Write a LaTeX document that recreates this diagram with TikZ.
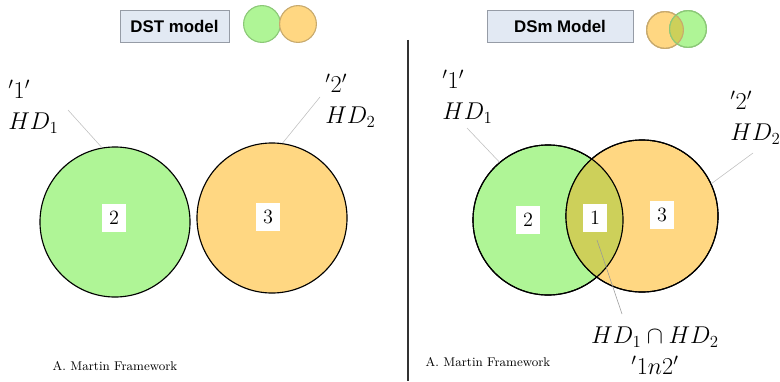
\documentclass[tikz,border=0pt]{standalone}
\usepackage{fontspec}
\setsansfont{Liberation Sans}

\definecolor{setgreen}{RGB}{175,245,150}
\definecolor{setorange}{RGB}{255,215,130}
\definecolor{setolive}{RGB}{205,208,90}
\definecolor{boxfill}{RGB}{226,233,243}
\definecolor{boxline}{RGB}{150,156,166}
\definecolor{greenrim}{RGB}{140,200,120}
\definecolor{orangerim}{RGB}{200,170,110}

\begin{document}
\begin{tikzpicture}[x=0.025cm,y=-0.025cm,
  setcircle/.style={circle,draw=black,thick,minimum size=3.75cm,inner sep=0pt},
  numbox/.style={fill=white,minimum width=0.6cm,minimum height=0.68cm,inner sep=0pt,font=\Large},
  modelbox/.style={draw=boxline,fill=boxfill,semithick,font=\sffamily\bfseries\large,minimum height=0.8cm,inner sep=0pt},
  hdlabel/.style={align=left,font=\LARGE,inner sep=0pt},
  leader/.style={draw=black!25,thin},
  minicircle/.style={circle,minimum size=0.92cm,inner sep=0pt,line width=0.8pt}]
  \useasboundingbox (0,0) rectangle (780,381);
  %
  \node (dst) [modelbox,minimum width=2.725cm] at (174.5,26) {DST model};
  \node (dstG) [minicircle,draw=greenrim,fill=setgreen] at (262,24) {};
  \node (dstO) [minicircle,draw=orangerim,fill=setorange] at (298,24) {};
  %
  \node (dsm) [modelbox,minimum width=3.65cm] at (560,26) {DSm Model};
  \node (dsmO) [minicircle,draw=orangerim,fill=setorange] at (665,30) {};
  \node (dsmG) [minicircle,draw=greenrim,fill=setgreen] at (688,29) {};
  \begin{scope}
    \clip (665,30) circle (0.46cm);
    \fill[setolive] (688,29) circle (0.46cm);
  \end{scope}
  \draw[orangerim,line width=0.8pt] (665,30) circle (0.46cm);
  \draw[greenrim,line width=0.8pt] (688,29) circle (0.46cm);
  %
  \draw[line width=1.4pt,black!80] (408,40) -- (408,381);
  %
  % DST side
  \node (gA) [setcircle,fill=setgreen] at (115,222) {};
  \node (oA) [setcircle,fill=setorange] at (272,218) {};
  \node (nA2) [numbox] at (114,218) {2};
  \node (nA3) [numbox] at (268,217) {3};
  \node (hdA) [hdlabel,anchor=west] at (8,107) {$'1'$\\$HD_1$};
  \node (hdB) [hdlabel,anchor=west] at (325,101) {$'2'$\\$HD_2$};
  \coordinate (fA) at (68,110);
  \coordinate (fB) at (320,97);
  \draw[leader] (fA) -- (gA.100);
  \draw[leader] (fB) -- (oA.82);
  \node (mA) at (115,366) {\small A. Martin Framework};
  %
  % DSm side
  \node (gB) [setcircle,fill=setgreen] at (548,220) {};
  \node (oB) [setcircle,fill=setorange,minimum size=3.8cm] at (642,216) {};
  \begin{scope}
    \clip (548,220) circle (1.875cm);
    \fill[setolive] (642,216) circle (1.9cm);
  \end{scope}
  \draw[thick] (548,220) circle (1.875cm);
  \draw[thick] (642,216) circle (1.9cm);
  \node (nB2) [numbox] at (528,220) {2};
  \node (nB1) [numbox] at (595,218) {1};
  \node (nB3) [numbox] at (662,215) {3};
  \node (hdC) [hdlabel,anchor=west] at (442,97) {$'1'$\\$HD_1$};
  \node (hdD) [hdlabel,anchor=west] at (730,118) {$'2'$\\$HD_2$};
  \node (hdI) [hdlabel,align=center] at (655,351) {$HD_1\cap HD_2$\\$'1n2'$};
  \coordinate (fC) at (467,128);
  \coordinate (fD) at (753,153);
  \coordinate (fI) at (597,240);
  \coordinate (tI) at (622,314);
  \draw[leader] (fC) -- (gB.130);
  \draw[leader] (fD) -- (oB.25);
  \draw[leader,draw=black!40] (fI) -- (tI);
  \node (mB) at (488,362) {\small A. Martin Framework};
  %
\end{tikzpicture}
\end{document}
